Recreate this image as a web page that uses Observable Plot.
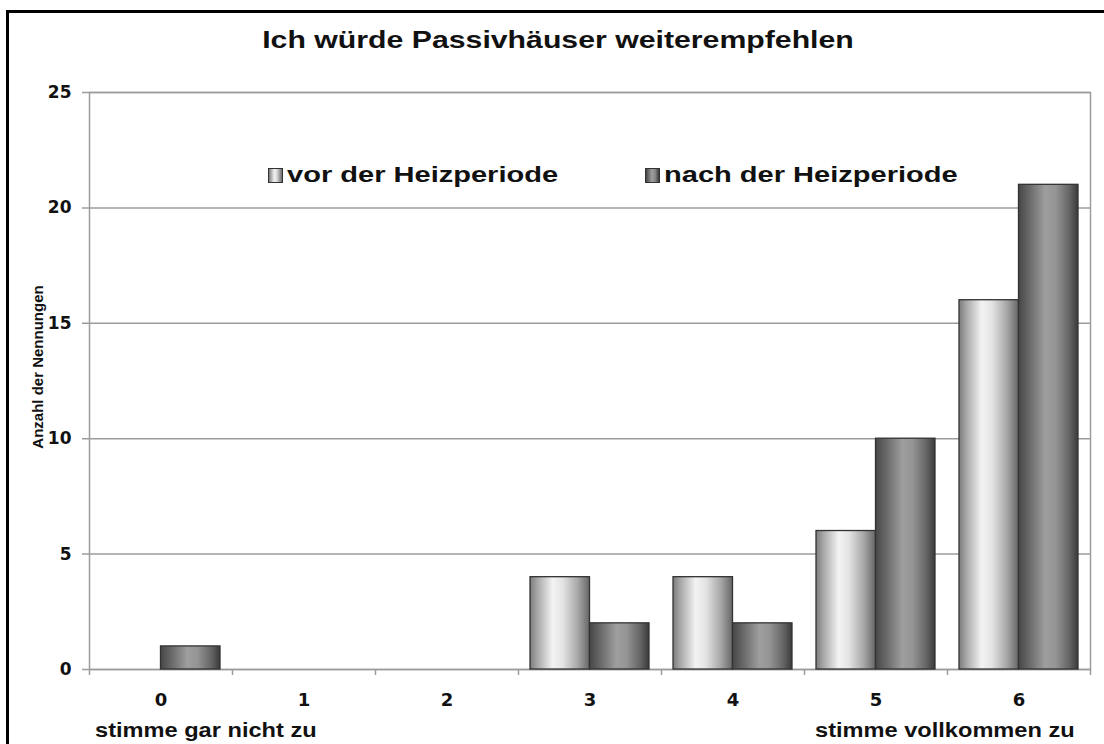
<!DOCTYPE html>
<html><head><meta charset="utf-8">
<script src="https://cdn.jsdelivr.net/npm/d3@7"></script>
<script src="https://cdn.jsdelivr.net/npm/@observablehq/plot@0.6"></script>
<style>
html,body{margin:0;padding:0;background:#fff;width:1104px;height:744px;overflow:hidden;font-family:"Liberation Sans",Arial,sans-serif;}
#chart{position:absolute;left:0;top:0;}
#border{position:absolute;left:6px;top:10px;width:1200px;height:900px;border-left:3px solid #000;border-top:3px solid #000;pointer-events:none;}
.t{position:absolute;font-weight:bold;color:#111;white-space:nowrap;}
#title{left:558px;top:28px;font-size:24px;line-height:24px;transform:translateX(-50%) scaleX(1.26);}
.leg{top:164px;font-size:22px;line-height:22px;transform-origin:0 50%;transform:scaleX(1.32);}
.sw{position:absolute;top:168px;width:13px;height:13px;border:1px solid #333;}
.bot{top:720px;font-size:20px;line-height:20px;transform-origin:0 50%;}
#ylab{left:37px;top:367px;font-size:15px;line-height:15px;transform:translate(-50%,-50%) rotate(-90deg);}
</style></head>
<body>
<div id="chart"></div>
<div id="border"></div>
<div id="title" class="t"></div>
<div id="sw0" class="sw" style="left:268px;background:linear-gradient(to right,#7a7a7a,#f2f2f2 40%,#dcdcdc 60%,#6a6a6a);"></div>
<div id="leg0" class="t leg" style="left:287px;"></div>
<div id="sw1" class="sw" style="left:645px;background:linear-gradient(to right,#444,#9e9e9e 45%,#888 70%,#3c3c3c);"></div>
<div id="leg1" class="t leg" style="left:664px;"></div>
<div id="bot0" class="t bot" style="left:95px;transform:scaleX(1.18);"></div>
<div id="bot1" class="t bot" style="left:815px;transform:scaleX(1.18);"></div>
<div id="ylab" class="t"></div>
<script>
const titleText = "Ich würde Passivhäuser weiterempfehlen";
const yLabel = "Anzahl der Nennungen";
const categories = ["0","1","2","3","4","5","6"];
const seriesNames = ["vor der Heizperiode","nach der Heizperiode"];
const vor = [0,0,0,4,4,6,16];
const nach = [1,0,0,2,2,10,21];
const yTicks = [0,5,10,15,20,25];
const leftEndLabel = "stimme gar nicht zu";
const rightEndLabel = "stimme vollkommen zu";

document.getElementById("title").textContent = titleText;
document.getElementById("leg0").textContent = seriesNames[0];
document.getElementById("leg1").textContent = seriesNames[1];
document.getElementById("bot0").textContent = leftEndLabel;
document.getElementById("bot1").textContent = rightEndLabel;
document.getElementById("ylab").textContent = yLabel;

const data = categories.flatMap((c, i) => [
  {cat: c, series: seriesNames[0], value: vor[i]},
  {cat: c, series: seriesNames[1], value: nach[i]}
]);

const gridColor = "#9c9c9c";
const tickFont = "'DejaVu Sans', sans-serif";
const plot = Plot.plot({
  width: 1104, height: 744,
  marginLeft: 89, marginRight: 14, marginTop: 92, marginBottom: 75,
  x: {domain: categories, padding: 0, axis: null},
  y: {domain: [0, 25], axis: null},
  style: {fontFamily: "'Liberation Sans', Arial, sans-serif", fontWeight: "bold", color: "#111", background: "transparent", overflow: "visible"},
  marks: [
    Plot.gridY(yTicks, {stroke: gridColor, strokeOpacity: 1, strokeWidth: 1.5, insetLeft: -7}),
    Plot.frame({stroke: gridColor, strokeWidth: 1.5}),
    Plot.axisY(yTicks, {tickSize: 0, tickPadding: 18, fontSize: 17, fontFamily: tickFont, label: null}),
    Plot.axisX({tickSize: 0, tickPadding: 24, fontSize: 18, fontFamily: tickFont, label: null}),
    Plot.axisX({tickSize: 6, fill: "none", dx: -71.5, stroke: gridColor, strokeWidth: 1.5, label: null}),
    Plot.axisX(["6"], {tickSize: 6, fill: "none", dx: 71.5, stroke: gridColor, strokeWidth: 1.5, label: null}),
    Plot.barY(data, {filter: d => d.series === seriesNames[0] && d.value > 0, x: "cat", y: "value",
      fill: "url(#gradVor)", stroke: "#333", strokeWidth: 1.3, insetLeft: 12, insetRight: 71.5}),
    Plot.barY(data, {filter: d => d.series === seriesNames[1] && d.value > 0, x: "cat", y: "value",
      fill: "url(#gradNach)", stroke: "#333", strokeWidth: 1.3, insetLeft: 71.5, insetRight: 12})
  ]
});

const defs = d3.select(plot).insert("defs", ":first-child");
function grad(id, stops) {
  const g = defs.append("linearGradient").attr("id", id).attr("x1", 0).attr("x2", 1).attr("y1", 0).attr("y2", 0);
  stops.forEach(([o, c]) => g.append("stop").attr("offset", o).attr("stop-color", c));
}
grad("gradVor", [[0, "#7c7c7c"], [0.12, "#a6a6a6"], [0.38, "#f3f3f3"], [0.55, "#e4e4e4"], [0.8, "#a8a8a8"], [1, "#666"]]);
grad("gradNach", [[0, "#474747"], [0.2, "#6c6c6c"], [0.45, "#9e9e9e"], [0.62, "#959595"], [0.85, "#666"], [1, "#3a3a3a"]]);

document.getElementById("chart").appendChild(plot);
</script>
</body></html>
